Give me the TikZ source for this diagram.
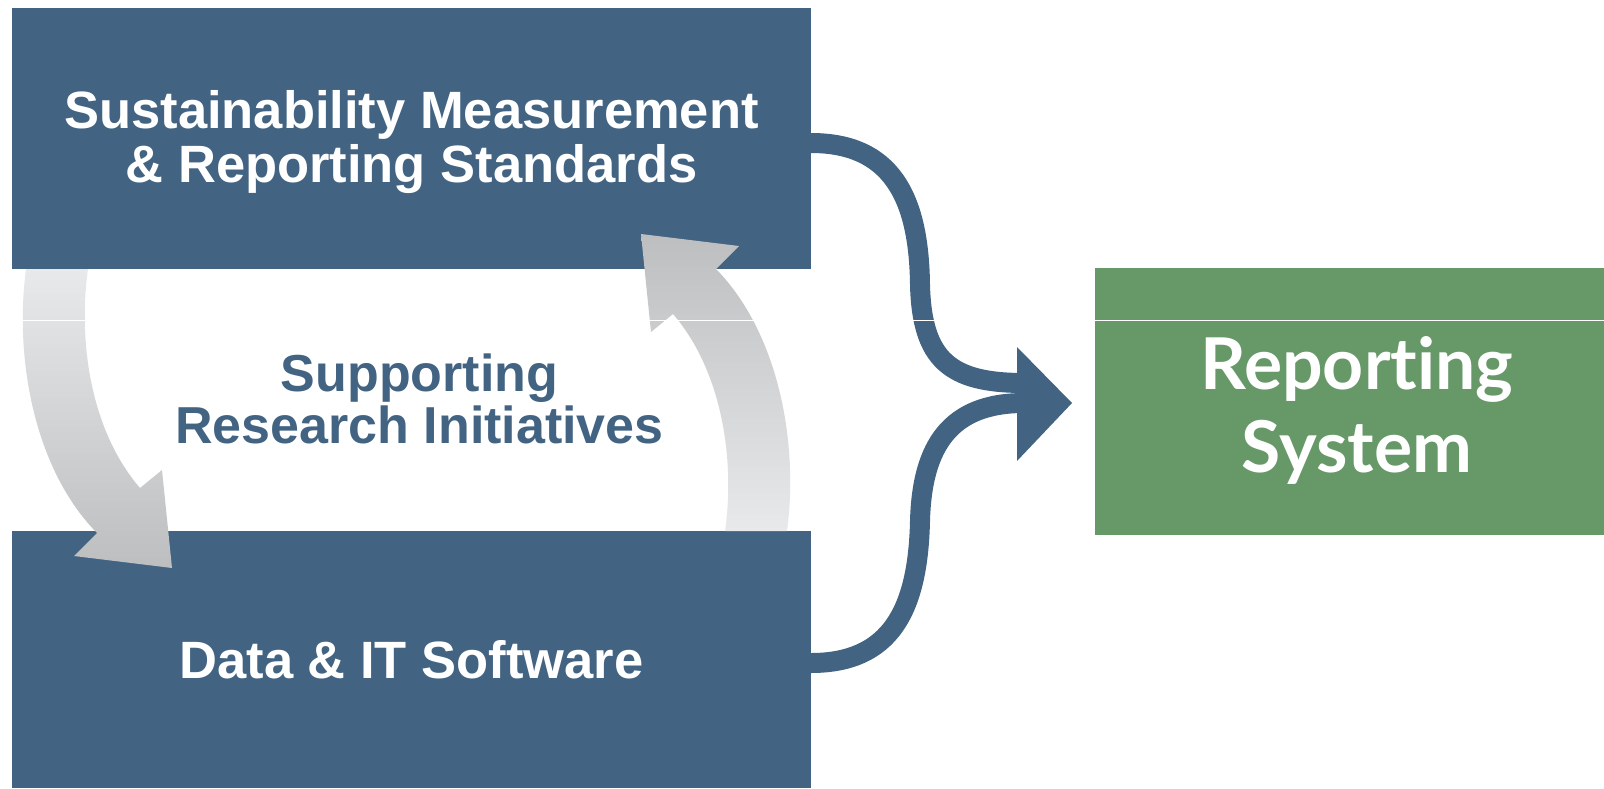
\documentclass[tikz,border=0pt]{standalone}
\usepackage{fontspec}
\setmainfont{Liberation Sans}
\newfontfamily\greenfont[Ligatures={NoCommon,NoRare}]{Lato}
\definecolor{boxblue}{HTML}{426482}
\definecolor{boxgreen}{HTML}{679868}
\definecolor{graylight}{HTML}{E8E9EB}
\definecolor{graydark}{HTML}{BDBEC0}
\begin{document}
\begin{tikzpicture}[x=1pt,y=-1pt,
  bluebox/.style={fill=boxblue, draw=none, inner sep=0pt, outer sep=0pt, anchor=north west, minimum width=799pt},
  greenbox/.style={fill=boxgreen, draw=none, inner sep=0pt, outer sep=0pt, anchor=north west},
  boxtext/.style={text=white, font=\bfseries\fontsize{52.5}{52.5}\selectfont, inner sep=0pt, anchor=base},
  midtext/.style={text=boxblue, font=\bfseries\fontsize{52}{52}\selectfont, inner sep=0pt, anchor=base},
  greentext/.style={text=white, font=\greenfont\bfseries\fontsize{71.5}{71.5}\selectfont, inner sep=0pt, anchor=base},
  bracestroke/.style={draw=boxblue, line width=20pt},
  cyclearrow/.style={draw=none}
]
\useasboundingbox (0,0) rectangle (1604,788);

% boxes
\node[bluebox, minimum height=261pt] (std) at (12,8) {};
\node[bluebox, minimum height=257pt] (dat) at (12,531) {};
\node[greenbox, minimum width=509pt, minimum height=267pt] (rep) at (1095,268) {};

% texts
\node[boxtext] (stdA) at (411.5,128) {Sustainability Measurement};
\node[boxtext] (stdB) at (411.5,182) {\& Reporting Standards};
\node[boxtext] (datA) at (411.5,678) {Data \& IT Software};
\node[midtext] (midA) at (419.5,391) {Supporting};
\node[midtext] (midB) at (419.5,443) {Research Initiatives};
\node[greentext] (repA) at (1357,389) {Reporting};
\node[greentext] (repB) at (1357,472) {System};

% cycle arrows
\shade[cyclearrow, top color=graylight, bottom color=graydark]
  (26,269) .. controls (14,360) and (35,470) .. (97,533) -- (74,556) -- (172,568)
  -- (162,470) -- (140,488) .. controls (90,430) and (78,340) .. (88,269) -- cycle;
\shade[cyclearrow, top color=graydark, bottom color=graylight]
  (787,531) .. controls (799,442) and (778,332) .. (716,269) -- (739,246) -- (641,234)
  -- (651,332) -- (673,314) .. controls (723,372) and (735,462) .. (725,531) -- cycle;

% brace connector
\coordinate (tip) at (1072,403);
\draw[bracestroke] ([yshift=-4.5pt]std.east) .. controls (890,143) and (919,195) .. (920,285)
  .. controls (922,360) and (950,383) .. (1024,383);
\draw[bracestroke] ([yshift=-3.5pt]dat.east) .. controls (890,663) and (918,611) .. (920,521)
  .. controls (922,446) and (950,403) .. (1024,403);
\fill[boxblue] (1017,347) -- (tip) -- (1017,461) -- cycle;

% thin white seam
\draw[white, line width=1.2pt] (0,320.5) -- (1604,320.5);
\end{tikzpicture}
\end{document}
